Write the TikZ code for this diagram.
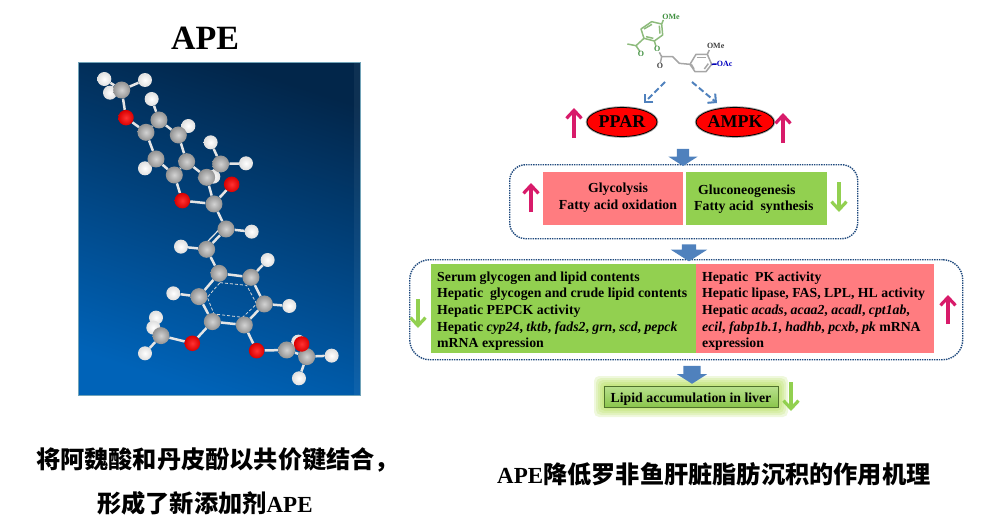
\documentclass[tikz,border=0pt]{standalone}
\usepackage{fontspec}
\setmainfont{Liberation Serif}
\newfontfamily\cjk{Noto Sans CJK SC}
\usetikzlibrary{positioning, shapes.geometric, shapes.arrows, arrows.meta, backgrounds}

\definecolor{nblue}{HTML}{4F81BD}
\definecolor{nred}{HTML}{FF7C80}
\definecolor{ngreen}{HTML}{92D050}
\definecolor{nrose}{HTML}{D81B6A}
\definecolor{ndots}{HTML}{1F497D}
\definecolor{sgreen}{HTML}{3F8F3F}
\definecolor{sring}{HTML}{8DBB7C}
\definecolor{skytop}{HTML}{02264A}
\definecolor{skylow}{HTML}{0063B8}

\begin{document}
\begin{tikzpicture}[
    x=1pt, y=-1pt,
    carbon/.style={circle, inner color=gray!35, outer color=gray!85, minimum size=17pt, inner sep=0pt},
    oxygen/.style={circle, inner color=red!80!white, outer color=red!85!black, minimum size=15.5pt, inner sep=0pt},
    hydrogen/.style={circle, inner color=white, outer color=gray!25, minimum size=14pt, inner sep=0pt},
    bond/.style={line width=2.5pt, white!80!gray},
    ringbond/.style={line width=1.5pt, line join=round},
    smalllabel/.style={font=\fontsize{8}{9}\selectfont\bfseries, inner sep=0pt},
    enzyme/.style={ellipse, draw=black, fill=red, line width=0.8pt, preaction={draw=gray!70, line width=2.6pt},
        minimum width=70pt, minimum height=29pt, inner sep=0pt, font=\fontsize{18}{20}\selectfont\bfseries},
    uparrow/.style={line width=3.2pt, nrose, -{Straight Barb[length=8pt, width=15pt]}},
    downarrow/.style={line width=3.2pt, ngreen, -{Straight Barb[length=8pt, width=15pt]}},
    dasharrow/.style={line width=2pt, nblue, dash pattern=on 6pt off 3pt, -{Straight Barb[length=6pt, width=12pt]}},
    flowarrow/.style={single arrow, shape border rotate=270, fill=nblue, inner ysep=0pt, single arrow tip angle=115},
    dotbox/.style={draw=ndots, line width=1.4pt, densely dotted, rounded corners=16pt, inner sep=0pt},
    panel/.style={anchor=north west, inner sep=0pt},
    paneltext/.style={font=\fontsize{13.8}{16.67}\selectfont\bfseries, inner sep=0pt, align=left},
    caption/.style={anchor=west, inner sep=0pt, font=\fontsize{24.2}{26}\selectfont\cjk\bfseries}
]
    \useasboundingbox (0,0) rectangle (1002,528);

    % title and model picture
    \node[inner sep=0pt, font=\fontsize{34}{36}\selectfont\bfseries] (title) at (205,38) {APE};

    \begin{scope}[on background layer]
        \shade[top color=skytop, bottom color=skylow, shading angle=-18] (78,62) rectangle (360,395);
        \fill[white, opacity=0.05] (354,62) rectangle (360,395);
        \draw[cyan!40!gray, line width=0.5pt] (78,62) rectangle (360,395);
    \end{scope}

    % atoms, in the coordinates of a 3x crop
    \begin{scope}[shift={(60,50)}, x=0.3333pt, y=-0.3333pt]
        \foreach \n/\x/\y in {a/133/87, b/255/90, c/150/128, d/275/147, e/385/228, f/452/277, g/558/340, h/255/355,
            i/460/380, j/575/545, k/363/590, l/623/630, m/688/768, n/340/730, o/288/803, p/280/833, q/255/910,
            r/715/875, s/815/917, t/717/985}
            \node[hydrogen] (h\n) at (\x,\y) {};
        \foreach \n/\x/\y in {1/185/120, 2/258/247, 3/297/210, 4/355/255, 5/380/335, 6/343/375, 7/288/327, 8/440/382,
            9/482/342, 10/462/462, 11/498/537, 12/440/598, 13/477/670, 14/573/682, 15/613/762, 16/553/825,
            17/457/815, 18/417/740, 19/303/857, 20/680/900, 21/740/920}
            \node[carbon] (c\n) at (\x,\y) {};
        \foreach \n/\x/\y in {1/198/203, 2/515/403, 3/367/452, 4/397/880, 5/590/902, 6/725/882}
            \node[oxygen] (o\n) at (\x,\y) {};

        % aromatic ring and double bonds
        \begin{scope}[on background layer]
            \draw[white!70!gray, line width=0.8pt, densely dashed] (480,698) -- (560,706) -- (590,762) -- (548,802) -- (462,792) -- (442,742) -- cycle;
            \draw[white!80!gray, line width=1.2pt] (488,528) -- (430,588);
            \draw[white!80!gray, line width=1.2pt] (478,440) -- (512,412);
        \end{scope}
    \end{scope}

    % bonds go behind the atoms
    \begin{scope}[on background layer]
        \foreach \p/\q in {c1/ha, c1/hb, c1/hc, c1/o1, o1/c2, c2/c3, c3/c4, c4/c5, c5/c6, c6/c7, c7/c2, c3/hd, c4/he,
            c7/hh, c5/c8, c8/c9, c9/hf, c9/hg, c8/hi, c8/c10, c6/o3, o3/c10, c10/o2, c10/c11, c11/c12, c11/hj, c12/hk,
            c12/c13, c13/c14, c14/c15, c15/c16, c16/c17, c17/c18, c18/c13, c14/hl, c15/hm, c18/hn, c17/o4, o4/c19,
            c19/ho, c19/hp, c19/hq, c16/o5, o5/c20, c20/o6, c20/c21, c20/hr, c21/hs, c21/ht}
            \draw[bond] (\p) -- (\q);
    \end{scope}

    % structure formula, in the coordinates of a 3x crop
    \begin{scope}[shift={(620,5)}, x=0.3333pt, y=-0.3333pt]
        \draw[ringbond, sring] (63,72) -- (95,50) -- (125,57) -- (128,90) -- (103,108) -- (72,100) -- cycle;
        \draw[ringbond, sring] (72,72) -- (96,58);
        \draw[ringbond, sring] (118,62) -- (120,86);
        \draw[ringbond, sring] (78,95) -- (100,100);
        \draw[ringbond, sring] (125,57) -- (130,45);
        \draw[ringbond, sring] (72,100) -- (48,122) -- (22,117);
        \draw[ringbond, sring] (48,122) -- (60,140);
        \draw[ringbond, sring] (103,108) -- (108,124);
        \draw[ringbond, gray!70] (118,142) -- (125,155) -- (158,155) -- (178,175) -- (210,178);
        \draw[ringbond, gray!70] (125,155) -- (121,174);
        \draw[ringbond, gray!70] (210,178) -- (228,148) -- (262,148) -- (275,178) -- (258,200) -- (225,200) -- cycle;
        \draw[ringbond, gray!70] (230,157) -- (257,157);
        \draw[ringbond, gray!70] (265,176) -- (253,192);
        \draw[ringbond, gray!70] (222,192) -- (214,178);
        \draw[ringbond, gray!70] (262,148) -- (268,135);
        \draw[ringbond, blue!70!black] (275,178) -- (290,177);
        \node[smalllabel, sgreen] (omea) at (153,35) {OMe};
        \node[smalllabel, sgreen] (oxa) at (63,147) {O};
        \node[smalllabel, sgreen] (oxb) at (112,133) {O};
        \node[smalllabel, black!75] (oxc) at (120,183) {O};
        \node[smalllabel, black!75] (omeb) at (287,124) {OMe};
        \node[smalllabel, blue!75!black] (oac) at (314,177) {OAc};
    \end{scope}

    % enzymes with their arrows
    \node[enzyme] (ppar) at (622,122) {PPAR};
    \node[enzyme] (ampk) at (735,122) {AMPK};
    \coordinate (dsa) at (665,82);
    \coordinate (dea) at (644,103);
    \coordinate (dsb) at (692,82);
    \coordinate (deb) at (717,103);
    \draw[dasharrow] (dsa) -- (dea);
    \draw[dasharrow] (dsb) -- (deb);

    % first level
    \node[dotbox, panel, minimum width=348pt, minimum height=74pt] (levela) at (509,164) {};
    \node[panel, fill=nred, minimum width=140pt, minimum height=53pt] (glyco) at (543,172) {};
    \node[panel, fill=ngreen, minimum width=141pt, minimum height=53pt] (gluco) at (686,172) {};
    \node[paneltext, align=center] (glycotext) at (618,198) {Glycolysis\\Fatty acid oxidation};
    \node[paneltext, right=8pt of gluco.west, anchor=west, yshift=-0.5pt] (glucotext) {\hspace*{4pt}Gluconeogenesis\\Fatty acid\ \ synthesis};

    % second level
    \node[dotbox, panel, rounded corners=20pt, minimum width=553pt, minimum height=100pt] (levelb) at (409,259) {};
    \node[panel, fill=ngreen, minimum width=265pt, minimum height=89pt] (serum) at (431,264) {};
    \node[panel, fill=nred, minimum width=238pt, minimum height=89pt] (hepatic) at (696,264) {};
    \node[paneltext, right=6pt of serum.west, anchor=west, yshift=-2.5pt] (serumtext) {Serum glycogen and lipid contents\\
        Hepatic\ \ glycogen and crude lipid contents\\
        Hepatic PEPCK activity\\
        Hepatic \textit{cyp24}, \textit{tktb}, \textit{fads2}, \textit{grn}, \textit{scd}, \textit{pepck}\\
        mRNA expression};
    \node[paneltext, right=6pt of hepatic.west, anchor=west, yshift=-2.5pt] (hepatictext) {Hepatic\ \ PK activity\\
        Hepatic lipase, FAS, LPL, HL activity\\
        Hepatic \textit{acads}, \textit{acaa2}, \textit{acadl}, \textit{cpt1ab},\\
        \textit{ecil}, \textit{fabp1b.1}, \textit{hadhb}, \textit{pcxb}, \textit{pk} mRNA\\
        expression};

    % result box with a soft glow
    \foreach \g in {20,16,12,8,4}
        \node[fill=ngreen!80!yellow, opacity=0.18, rounded corners=5pt, minimum width=174pt+\g pt, minimum height=21pt+\g pt] at (691,396.5) {};
    \node[draw=ngreen!55!black, line width=0.8pt, top color=ngreen!65!white, bottom color=ngreen!95!black, minimum width=174pt, minimum height=21pt,
        inner sep=0pt, text height=11pt, text depth=0pt, font=\fontsize{13.8}{16}\selectfont\bfseries] (lipid) at (691,396.5) {Lipid accumulation in liver};

    % block arrows between the levels
    \node[flowarrow, minimum width=29pt, minimum height=17pt, inner xsep=6pt, single arrow head extend=8.5pt] (flowa) at (683,155.5) {};
    \node[flowarrow, minimum width=36pt, minimum height=17pt, inner xsep=7pt, single arrow head extend=11pt] (flowb) at (689,250.5) {};
    \node[flowarrow, minimum width=30pt, minimum height=18pt, inner xsep=8.5pt, single arrow head extend=6.5pt] (flowc) at (692,372) {};

    % up and down arrows
    \foreach \n/\x/\ya/\yb in {a/574/138/108, b/783/143/113, c/531/212/183, d/948/324/295} {
        \coordinate (us\n) at (\x,\ya);
        \coordinate (ue\n) at (\x,\yb);
        \draw[uparrow] (us\n) -- (ue\n);
    }
    \foreach \n/\x/\ya/\yb in {a/839/182/212, b/418/299/328, c/791/382/411} {
        \coordinate (ds\n) at (\x,\ya);
        \coordinate (de\n) at (\x,\yb);
        \draw[downarrow] (ds\n) -- (de\n);
    }

    % captions
    \node[caption] (capa) at (36,460) {将阿魏酸和丹皮酚以共价键结合，};
    \node[caption] (capb) at (97,503) {形成了新添加剂{\rmfamily\bfseries\fontsize{23}{26}\selectfont APE}};
    \node[caption] (capc) at (497,474) {{\rmfamily\bfseries\fontsize{23}{26}\selectfont APE}降低罗非鱼肝脏脂肪沉积的作用机理};

\end{tikzpicture}
\end{document}
